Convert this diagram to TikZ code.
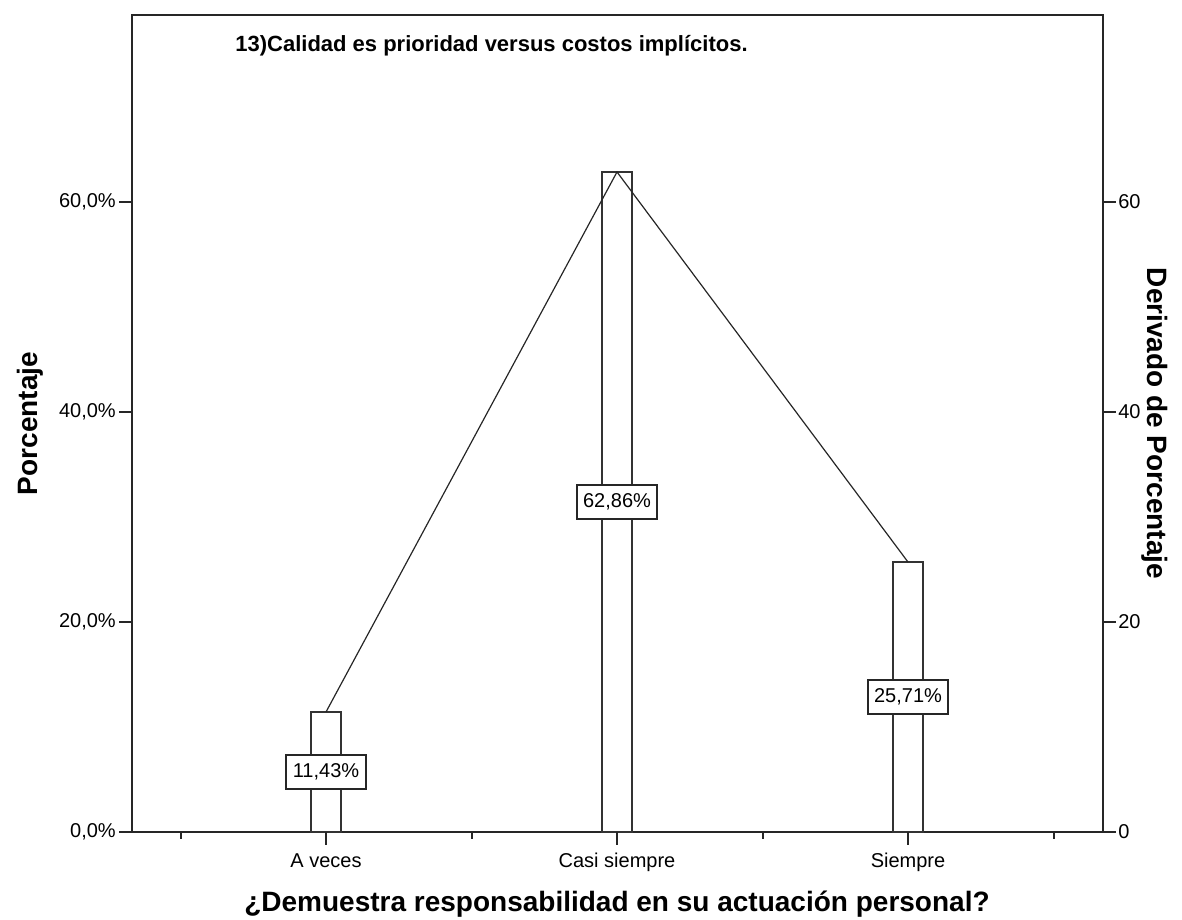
\documentclass[tikz,border=0pt]{standalone}
\usepackage{fontspec}
\setmainfont{Liberation Sans}
\begin{document}
\begin{tikzpicture}[x=0.75pt,y=-0.75pt,
  axisline/.style={draw=black!85,line width=1.1pt},
  barbox/.style={draw=black!80,line width=1.1pt,fill=white},
  ticklbl/.style={font=\fontsize{15}{18}\selectfont,inner sep=0pt},
  axtitle/.style={font=\bfseries\fontsize{21}{25}\selectfont,inner sep=0pt},
  charttitle/.style={font=\bfseries\fontsize{16.5}{20}\selectfont,inner sep=0pt},
  vallbl/.style={draw=black!85,line width=1pt,fill=white,inner sep=0pt,
    minimum width=60pt,minimum height=25.5pt,font=\fontsize{15}{18}\selectfont},
  trend/.style={draw=black!85,line width=0.9pt}]
\useasboundingbox (0,0) rectangle (1182,920);
% plot frame
\draw[axisline] (132,15) rectangle (1103,832);
% left and right axis ticks and labels
\foreach \v in {0,20,40,60}{
  \draw[axisline] (119,832-\v*10.5) -- (132,832-\v*10.5);
  \node[ticklbl,anchor=east] (yl\v) at (116,832-\v*10.5) {\v,0\%};
  \draw[axisline] (1103,832-\v*10.5) -- (1116,832-\v*10.5);
  \node[ticklbl,anchor=west] (yr\v) at (1118,832-\v*10.5) {\v};
}
% minor ticks on the category axis
\foreach \x in {181,472,763,1054}{
  \draw[axisline] (\x,832) -- (\x,839);
}
% bars with their category ticks
\foreach \n/\x/\p in {a/326/11.43,b/617/62.86,c/908/25.71}{
  \draw[barbox] (\x-15,832) rectangle (\x+15,832-\p*10.5);
  \coordinate (top\n) at (\x,832-\p*10.5);
  \draw[axisline] (\x,832) -- (\x,845);
}
% line through the bar tops
\draw[trend] (topa) -- (topb) -- (topc);
% value labels
\node[vallbl] (va) at (326,832-11.43*5.25) {11,43\%};
\node[vallbl] (vb) at (617,832-62.86*5.25) {62,86\%};
\node[vallbl] (vc) at (908,832-25.71*5.25) {25,71\%};
% category labels
\node[ticklbl,anchor=base] (ca) at (326,867) {A veces};
\node[ticklbl,anchor=base] (cb) at (617,867) {Casi siempre};
\node[ticklbl,anchor=base] (cc) at (908,867) {Siempre};
% titles
\node[charttitle,anchor=base] (title) at (491.5,52) {13)Calidad es prioridad versus costos implícitos.};
\node[axtitle,anchor=base] (xtitle) at (617,911) {¿Demuestra responsabilidad en su actuación personal?};
\node[axtitle,rotate=90,anchor=base] (ytitle) at (37,423.5) {Porcentaje};
\node[axtitle,rotate=-90,anchor=base] (y2title) at (1147,423.5) {Derivado de Porcentaje};
\end{tikzpicture}
\end{document}
